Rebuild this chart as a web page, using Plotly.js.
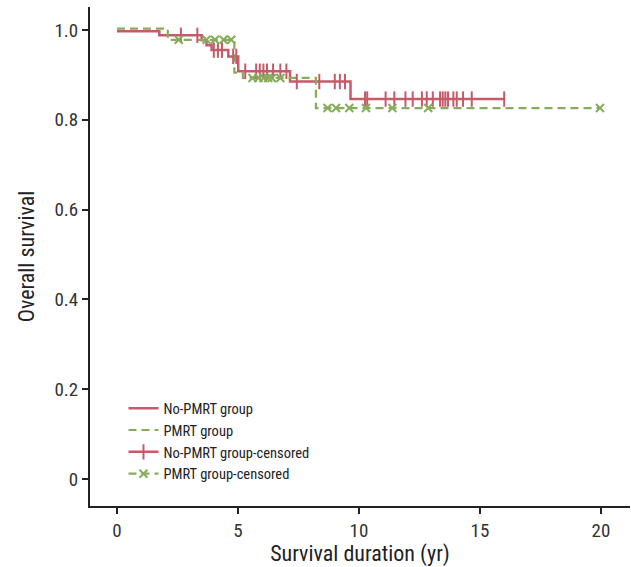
<!DOCTYPE html>
<html>
<head>
<meta charset="utf-8">
<script src="https://cdn.plot.ly/plotly-3.0.1.min.js"></script>
<style>
  html, body { margin: 0; padding: 0; background: #fff; }
  #chart { width: 631px; height: 567px; }
</style>
</head>
<body>
<div id="chart"></div>
<script>
// Kaplan-Meier step curves (time in years, survival)
const noPmrtTimes = [0, 1.75, 3.5, 3.7, 3.91, 4.6, 5.01, 7.15, 9.65, 16.0];
const noPmrtSurv  = [0.997, 0.988, 0.977, 0.966, 0.955, 0.941, 0.908, 0.885, 0.846, 0.846];
const pmrtTimes   = [0, 2.1, 4.85, 5.2, 8.22, 20.0];
const pmrtSurv    = [1.003, 0.978, 0.905, 0.893, 0.826, 0.826];

// Censored observations (time in years)
const noPmrtCensored = [2.64, 3.32, 4.0, 4.17, 4.34, 4.8, 4.93,
  5.3, 5.75, 5.9, 6.05, 6.2, 6.45, 6.75, 7.0,
  7.43, 8.36, 9.0, 9.21, 9.42,
  10.25, 10.34, 11.1, 11.46, 11.92, 12.22, 12.6, 12.8, 13.05, 13.35, 13.46,
  13.57, 13.68, 13.9, 14.04, 14.3, 14.66, 16.0];
const pmrtCensored = [2.55, 3.7, 4.05, 4.4, 4.72,
  5.6, 5.85, 6.05, 6.25, 6.4, 6.75,
  8.7, 9.05, 9.6, 10.29, 11.38, 12.86, 19.96];

const seriesNames = ['No-PMRT group', 'PMRT group', 'No-PMRT group-censored', 'PMRT group-censored'];
const xTicks = [0, 5, 10, 15, 20];
const yTicks = [0, 0.2, 0.4, 0.6, 0.8, 1.0];
const yTickText = ['0', '0.2', '0.4', '0.6', '0.8', '1.0'];

const RED = '#c65a6a';
const GREEN = '#86ad5b';
const FONT = '"Liberation Sans Narrow", "Roboto Condensed", Roboto, sans-serif';

// survival level of a step curve at time t
function levelAt(times, surv, t) {
  let v = surv[0];
  for (let i = 0; i < times.length; i++) { if (times[i] <= t) v = surv[i]; }
  return v;
}
// separate points with nulls so legend shows line + marker but no lines drawn
function gapped(times, surv, pts) {
  const xs = [], ys = [];
  pts.forEach(t => { xs.push(t, null); ys.push(levelAt(times, surv, t), null); });
  return {xs, ys};
}
const rc = gapped(noPmrtTimes, noPmrtSurv, noPmrtCensored);
const gc = gapped(pmrtTimes, pmrtSurv, pmrtCensored);

const traces = [
  {x: noPmrtTimes, y: noPmrtSurv, mode: 'lines', name: seriesNames[0],
   line: {color: RED, width: 2.5, shape: 'hv'}},
  {x: pmrtTimes, y: pmrtSurv, mode: 'lines', name: seriesNames[1],
   line: {color: GREEN, width: 2.2, shape: 'hv', dash: '8px,5px'}},
  {x: rc.xs, y: rc.ys, mode: 'lines+markers', name: seriesNames[2], connectgaps: false,
   line: {color: RED, width: 2.5},
   marker: {symbol: 'line-ns', size: 11, line: {color: RED, width: 2}}},
  {x: gc.xs, y: gc.ys, mode: 'lines+markers', name: seriesNames[3], connectgaps: false,
   line: {color: GREEN, width: 2.2, dash: '8px,5px'},
   marker: {symbol: 'x-thin', size: 8, line: {color: GREEN, width: 2}}}
];

const layout = {
  width: 631, height: 567,
  margin: {l: 90, r: 1, t: 7, b: 61},
  paper_bgcolor: '#fff', plot_bgcolor: '#fff',
  font: {family: FONT, color: '#222'},
  showlegend: true,
  legend: {x: 0.062, y: 0.228, xanchor: 'left', yanchor: 'top',
           font: {family: FONT, size: 14.5, color: '#222'},
           bgcolor: 'rgba(0,0,0,0)', tracegroupgap: 0, itemwidth: 30},
  xaxis: {range: [-1.116, 21.2], tickvals: xTicks, ticktext: xTicks.map(String),
          showgrid: false, zeroline: false, showline: true, linecolor: '#222', linewidth: 2,
          ticks: 'outside', ticklen: 6, tickwidth: 2, tickcolor: '#222',
          tickfont: {family: FONT, size: 19, color: '#333'},
          title: {text: 'Survival duration (yr)', font: {family: FONT, size: 22, color: '#222'}, standoff: 2}},
  yaxis: {range: [-0.06, 1.051], tickvals: yTicks, ticktext: yTickText,
          showgrid: false, zeroline: false, showline: true, linecolor: '#222', linewidth: 2,
          ticks: 'outside', ticklen: 6, tickwidth: 2, tickcolor: '#222',
          tickfont: {family: FONT, size: 19, color: '#333'},
          title: {text: 'Overall survival', font: {family: FONT, size: 22, color: '#222'}, standoff: 14}}
};

Plotly.newPlot('chart', traces, layout, {displayModeBar: false, staticPlot: true});
</script>
</body>
</html>
